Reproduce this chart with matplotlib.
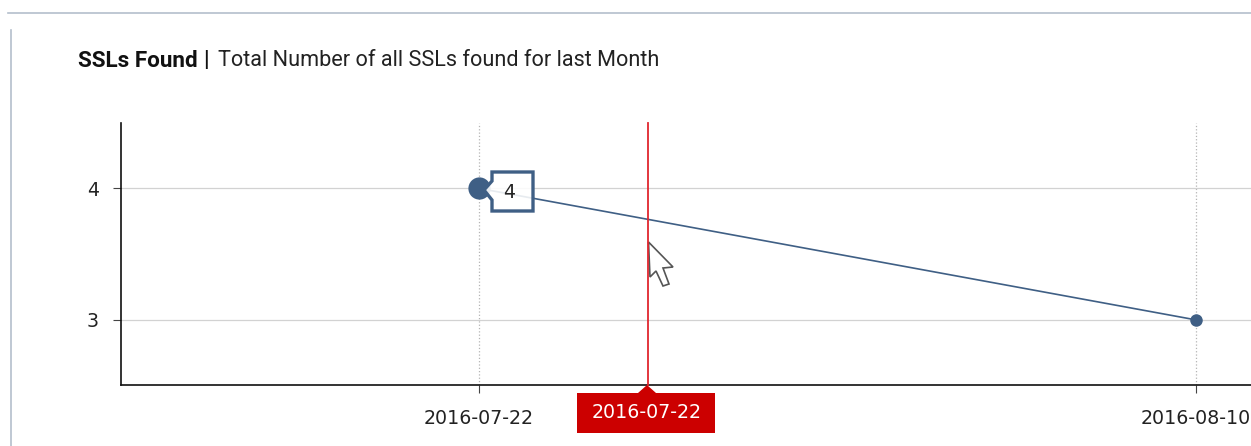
"""
SSLs Found line chart with hover tooltip and crosshair
"""

import datetime

import matplotlib
matplotlib.use('Agg')
import matplotlib.dates as mdates
import matplotlib.pyplot as plt
from matplotlib.patches import Polygon, Rectangle

dates = [datetime.date(2016, 7, 22), datetime.date(2016, 8, 10)]
ssl_counts = [4, 3]
y_ticks = [3, 4]
date_labels = ['2016-07-22', '2016-08-10']
title_bold = 'SSLs Found'
title_rest = 'Total Number of all SSLs found for last Month'
hover_label = '2016-07-22'

W, H = 1251, 446
LINE_COLOR = '#3f5f85'
RED = '#cc0000'
TITLE_FONT = 'Roboto'
LABEL_FONT = 'DejaVu Sans'
LABEL_SIZE = 13.7

plt.rcParams['font.family'] = LABEL_FONT

fig = plt.figure(figsize=(W / 100, H / 100), dpi=100, facecolor='white')

# Axes placed by pixel: left 121, right past the edge, top 123, bottom 385
ax = fig.add_axes([121 / W, (H - 385) / H, (W - 121) / W, 262 / H])
x_vals = mdates.date2num(dates)
px_per_day = (1196 - 479) / (x_vals[1] - x_vals[0])
ax.set_xlim(x_vals[0] - (479 - 121) / px_per_day, x_vals[0] + (W - 479) / px_per_day)
ax.set_ylim(2.505, 4.497)

ax.plot(x_vals, ssl_counts, color=LINE_COLOR, lw=1.2, zorder=3)
ax.plot(x_vals[1], ssl_counts[1], 'o', color=LINE_COLOR, ms=9, mew=0, zorder=4)
ax.plot(x_vals[0], ssl_counts[0], 'o', color=LINE_COLOR, ms=16, mew=0, zorder=4)

ax.set_xticks(x_vals)
ax.set_xticklabels(date_labels)
ax.set_yticks(y_ticks)
ax.set_yticklabels([str(v) for v in y_ticks])
ax.tick_params(axis='x', length=6, width=0.8, color='#444444', pad=11.5, labelsize=LABEL_SIZE, labelcolor='#222222')
ax.tick_params(axis='y', length=6, width=0.8, color='#444444', pad=10, labelsize=LABEL_SIZE, labelcolor='#222222')
ax.xaxis.grid(True, color='#b4b4b4', lw=0.9, ls=':')
ax.yaxis.grid(True, color='#d2d2d2', lw=0.9, ls='-')
ax.set_axisbelow(True)
for side in ['top', 'right']:
    ax.spines[side].set_visible(False)
for side in ['left', 'bottom']:
    ax.spines[side].set_linewidth(1.2)
    ax.spines[side].set_color('#111111')

# Overlay in pixel coordinates for page furniture, tooltip and crosshair
ov = fig.add_axes([0, 0, 1, 1], facecolor='none', zorder=5)
ov.set_xlim(0, W)
ov.set_ylim(H, 0)
ov.axis('off')

ov.plot([8, W], [13, 13], color='#b4bfcc', lw=1.2)
ov.plot([10.5, 10.5], [30, H], color='#b4bfcc', lw=1.2)

ov.text(78, 61, title_bold, family=TITLE_FONT, fontsize=16.2, fontweight='bold',
        color='#111111', va='center', ha='left')
ov.text(203, 60, '|', family=TITLE_FONT, fontsize=16.2, fontweight='bold',
        color='#111111', va='center', ha='left')
ov.text(218, 61, title_rest, family=TITLE_FONT, fontsize=15.6,
        color='#222222', va='center', ha='left')

# Tooltip callout next to the hovered point
callout = [(492, 172), (533, 172), (533, 211), (492, 211), (492, 200), (484, 190), (492, 181)]
ov.add_patch(Polygon(callout, closed=True, facecolor='white', alpha=0.88, edgecolor='none'))
ov.add_patch(Polygon(callout, closed=True, facecolor='none', edgecolor=LINE_COLOR,
                     lw=2.4, joinstyle='miter'))
ov.text(509, 192, str(ssl_counts[0]), fontsize=LABEL_SIZE, color='#222222', ha='center', va='center')

# Crosshair and its label
ov.plot([647.5, 647.5], [123, 385], color='#e0262e', lw=1.3)
ov.add_patch(Polygon([(638, 393), (647, 385), (656, 393)], closed=True, facecolor=RED, edgecolor='none'))
ov.add_patch(Rectangle((577, 393), 138, 40, facecolor=RED, edgecolor='none'))
ov.text(646.5, 413, hover_label, fontsize=LABEL_SIZE, color='white', ha='center', va='center')

# Mouse pointer
ov.add_patch(Polygon([(648.5, 242), (673, 267), (663, 268), (669, 284), (663, 286),
                      (656, 271), (650, 277)], closed=True, facecolor='white',
                     edgecolor='#555555', lw=1.2))

fig.savefig('out.png', dpi=100, facecolor='white')
